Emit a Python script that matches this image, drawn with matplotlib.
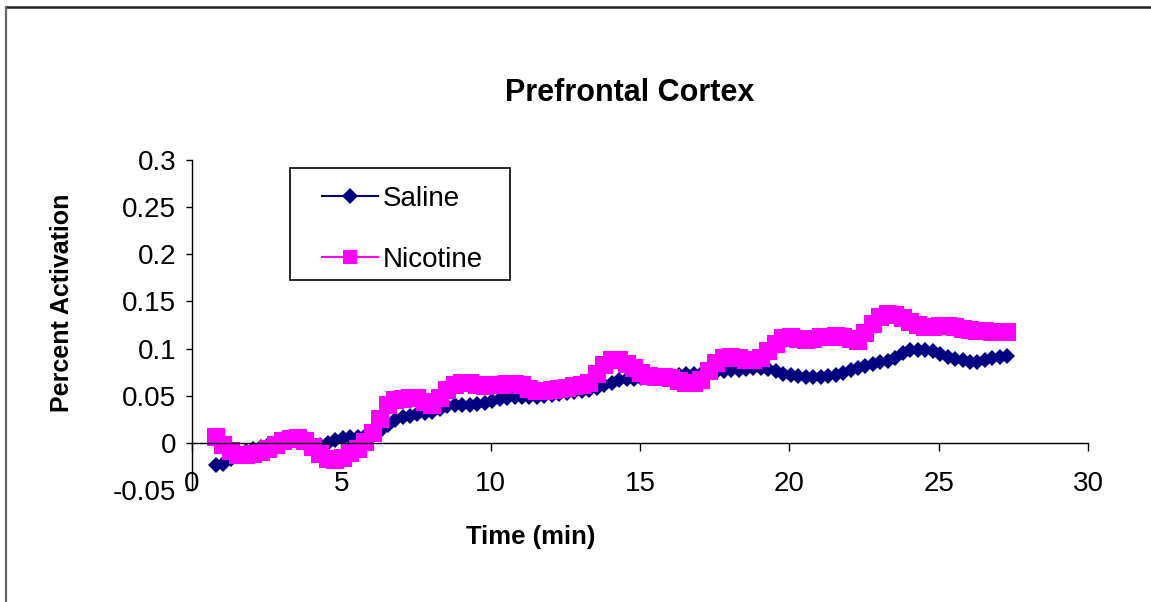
import numpy as np
import matplotlib.pyplot as plt
from matplotlib.lines import Line2D
from matplotlib.patches import Rectangle

plt.rcParams['font.family'] = ['Liberation Sans', 'DejaVu Sans']

# one reading every 15 s, from 0.8 min on
tiempo = 0.8 + 0.25 * np.arange(107)

saline = [
    -0.024, -0.022, -0.017, -0.012, -0.009, -0.006, -0.004, -0.002, 0.000, 0.001,
    0.002, 0.001, -0.001, -0.003, -0.002, 0.000, 0.003, 0.005, 0.006, 0.006,
    0.007, 0.009, 0.013, 0.019, 0.024, 0.027, 0.029, 0.031, 0.032, 0.033,
    0.036, 0.039, 0.040, 0.040, 0.040, 0.041, 0.042, 0.044, 0.046, 0.048,
    0.049, 0.049, 0.049, 0.049, 0.050, 0.051, 0.052, 0.053, 0.054, 0.055,
    0.056, 0.058, 0.061, 0.064, 0.067, 0.068, 0.068, 0.069, 0.069, 0.069,
    0.070, 0.071, 0.072, 0.073, 0.073, 0.073, 0.074, 0.075, 0.076, 0.077,
    0.077, 0.078, 0.079, 0.079, 0.078, 0.076, 0.073, 0.072, 0.071, 0.070,
    0.070, 0.070, 0.071, 0.072, 0.074, 0.077, 0.079, 0.082, 0.084, 0.086,
    0.087, 0.090, 0.095, 0.098, 0.099, 0.099, 0.097, 0.094, 0.091, 0.089,
    0.088, 0.086, 0.086, 0.088, 0.090, 0.091, 0.092,
]

nicotine = [
    0.006, -0.002, -0.009, -0.013, -0.013, -0.012, -0.010, -0.007, -0.002, 0.002,
    0.004, 0.005, 0.002, -0.004, -0.012, -0.017, -0.018, -0.016, -0.011, -0.006,
    0.001, 0.010, 0.025, 0.040, 0.045, 0.046, 0.048, 0.048, 0.043, 0.040,
    0.048, 0.056, 0.061, 0.063, 0.063, 0.061, 0.060, 0.061, 0.061, 0.062,
    0.062, 0.061, 0.057, 0.055, 0.055, 0.056, 0.057, 0.058, 0.060, 0.061,
    0.064, 0.073, 0.083, 0.088, 0.088, 0.084, 0.079, 0.074, 0.071, 0.070,
    0.070, 0.069, 0.066, 0.063, 0.063, 0.067, 0.076, 0.085, 0.090, 0.091,
    0.090, 0.088, 0.088, 0.090, 0.097, 0.105, 0.111, 0.112, 0.110, 0.109,
    0.110, 0.112, 0.112, 0.113, 0.112, 0.110, 0.108, 0.116, 0.126, 0.133,
    0.137, 0.136, 0.132, 0.128, 0.125, 0.123, 0.123, 0.124, 0.124, 0.123,
    0.121, 0.120, 0.119, 0.119, 0.118, 0.118, 0.118,
]

x_ticks = [0, 5, 10, 15, 20, 25, 30]
y_ticks = [-0.05, 0, 0.05, 0.1, 0.15, 0.2, 0.25, 0.3]
y_tick_labels = ['-0.05', '0', '0.05', '0.1', '0.15', '0.2', '0.25', '0.3']

W, H = 1151, 602
fig = plt.figure(figsize=(W / 100, H / 100), dpi=100)
ax = fig.add_axes([192 / W, 1 - 490 / H, 896 / W, 330 / H])

ax.plot(tiempo, saline, color='#000080', lw=2, marker='D', markersize=8.5,
        markeredgewidth=0, label='Saline')
ax.plot(tiempo, nicotine, color='#FF00FF', lw=2, marker='s', markersize=12.5,
        markeredgewidth=0, label='Nicotine')

ax.set_xlim(0, 30)
ax.set_ylim(-0.05, 0.3)
ax.set_xticks(x_ticks)
ax.set_xticklabels([str(t) for t in x_ticks])
ax.set_yticks(y_ticks)
ax.set_yticklabels(y_tick_labels)

# horizontal axis sits on zero, labels pushed below the plot
ax.spines['bottom'].set_position(('data', 0))
ax.spines['top'].set_visible(False)
ax.spines['right'].set_visible(False)
for s in ('left', 'bottom'):
    ax.spines[s].set_linewidth(1.0)
    ax.spines[s].set_color('black')
ax.tick_params(axis='x', direction='out', length=6, width=1, pad=14, labelsize=20)
ax.tick_params(axis='y', direction='out', length=4.5, width=1, pad=7, labelsize=20)

# legend box drawn separately so it can be padded wider than matplotlib allows
fig.add_artist(Rectangle((290 / W, 1 - 280 / H), 220 / W, 112 / H,
                         transform=fig.transFigure, fill=False,
                         edgecolor='black', lw=1.2))
leg = ax.legend(loc='upper left', bbox_to_anchor=(322 / W, 1 - 186 / H),
                bbox_transform=fig.transFigure, fontsize=20, frameon=False,
                numpoints=1, handlelength=2.0, handletextpad=0.2,
                labelspacing=1.25, borderpad=0, borderaxespad=0)
for h, ms in zip(leg.legend_handles, (8, 10)):
    h.set_markersize(ms)
    h.set_linewidth(1.5)

fig.text(630 / W, 1 - 93 / H, 'Prefrontal Cortex', ha='center', va='center',
         fontsize=22, fontweight='bold')
fig.text(531 / W, 1 - 537 / H, 'Time (min)', ha='center', va='center',
         fontsize=18.5, fontweight='bold')
fig.text(62 / W, 1 - 303 / H, 'Percent Activation', ha='center', va='center',
         rotation=90, fontsize=18, fontweight='bold')

# frame edges of the chart object
fig.add_artist(Line2D([6 / W, 1], [1 - 7 / H, 1 - 7 / H], color='#222222', lw=1.8))
fig.add_artist(Line2D([6 / W, 6 / W], [0, 1 - 7 / H], color='#666666', lw=1.6))

fig.savefig('out.png', dpi=100)
